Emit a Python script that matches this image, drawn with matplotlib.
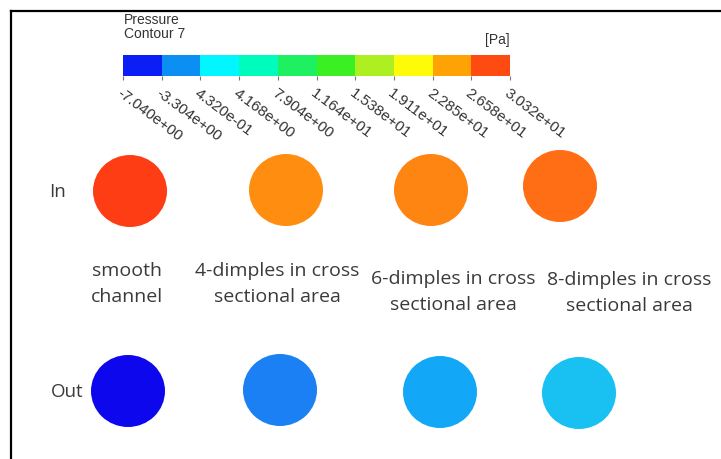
import matplotlib
matplotlib.use("Agg")
import matplotlib.pyplot as plt
from matplotlib.colors import ListedColormap, BoundaryNorm
from matplotlib.cm import ScalarMappable
from matplotlib.patches import Ellipse

# contour legend levels [Pa]
levels = [-7.040, -3.304, 0.4320, 4.168, 7.904, 11.64, 15.38, 19.11, 22.85, 26.58, 30.32]
level_labels = ["-7.040e+00", "-3.304e+00", "4.320e-01", "4.168e+00", "7.904e+00",
                "1.164e+01", "1.538e+01", "1.911e+01", "2.285e+01", "2.658e+01", "3.032e+01"]
band_colors = ["#0a1ef5", "#0c8ff2", "#02f6ff", "#00fcbc", "#1ef062",
               "#3aef22", "#aeef22", "#fdfb08", "#ffa204", "#ff4a12"]

# cases and face colours of the inlet / outlet sections
cases = ["smooth\nchannel", "4-dimples in cross\nsectional area",
         "6-dimples in cross\nsectional area", "8-dimples in cross\nsectional area"]
inlet_colors = ["#ff3d14", "#ff8e10", "#ff8512", "#ff6d14"]
outlet_colors = ["#0d07ee", "#1a80f4", "#12a8f7", "#18c1f2"]

# layout (pixels)
in_x = [130, 286, 431, 560]
in_y = [191, 190, 190, 186]
out_x = [128, 280, 440, 579]
out_y = [391, 390, 392, 393]
lab_x = [127, 277, 453, 629]
lab_y = [284, 284, 292, 293]
rx, ry = 37, 36

fig = plt.figure(figsize=(7.21, 4.59), dpi=100)
ax = fig.add_axes([0, 0, 1, 1])
ax.set_xlim(0, 721)
ax.set_ylim(459, 0)
ax.axis("off")

# frame lines on top and left
ax.plot([11, 721], [11, 11], color="black", lw=1.6)
ax.plot([11, 11], [11, 459], color="black", lw=1.6)

for i in range(len(cases)):
    ax.add_patch(Ellipse((in_x[i], in_y[i]), 2 * rx, 2 * ry, facecolor=inlet_colors[i],
                         edgecolor="none"))
    ax.add_patch(Ellipse((out_x[i], out_y[i]), 2 * rx, 2 * ry, facecolor=outlet_colors[i],
                         edgecolor="none"))
    ax.text(lab_x[i], lab_y[i], cases[i], ha="center", va="center", fontsize=14,
            family="Open Sans", color="#3a3a3a", linespacing=1.55)

ax.text(49, 192, "In", ha="left", va="center", fontsize=13.5, family="Open Sans", color="#3a3a3a")
ax.text(51, 392, "Out", ha="left", va="center", fontsize=13.5, family="Open Sans", color="#3a3a3a")

# pressure legend
ax.text(124, 27, "Pressure\nContour 7", ha="left", va="center", fontsize=10,
        family="Liberation Sans", color="#333333", linespacing=1.0)
ax.text(510, 40, "[Pa]", ha="right", va="center", fontsize=10, family="Liberation Sans",
        color="#333333")

cmap = ListedColormap(band_colors)
norm = BoundaryNorm(levels, cmap.N)
cax = fig.add_axes([123 / 721, 1 - 76 / 459, 387 / 721, 21 / 459])
cb = fig.colorbar(ScalarMappable(norm=norm, cmap=cmap), cax=cax, orientation="horizontal",
                  ticks=levels, spacing="uniform")
cb.outline.set_visible(False)
cax.tick_params(axis="x", length=3, width=0.8, color="#777777", pad=4)
cax.set_xticklabels(level_labels, rotation=-37, ha="left", va="top", rotation_mode="anchor",
                    fontsize=11, family="Liberation Sans", color="#333333")

fig.savefig("out.png", dpi=100)
